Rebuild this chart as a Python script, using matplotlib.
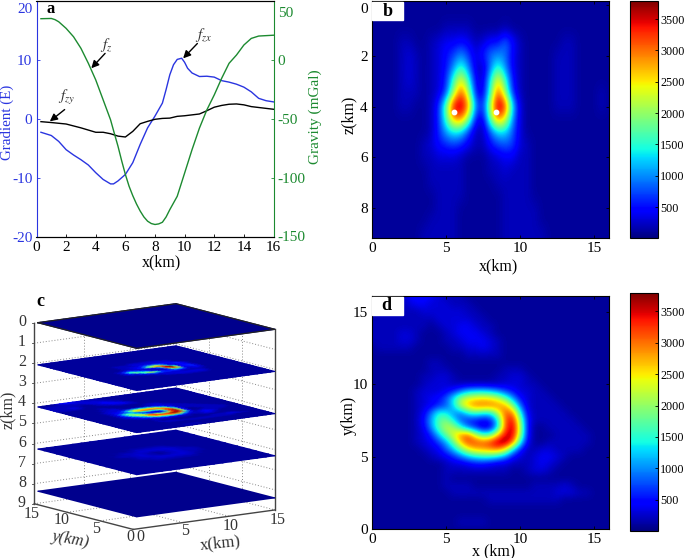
#!/usr/bin/python3
import numpy as np
from matplotlib import pyplot as plt
from matplotlib.transforms import ScaledTranslation

W, H = 685, 558

plt.rcParams['font.family'] = ['Liberation Serif', 'DejaVu Serif']
plt.rcParams['mathtext.fontset'] = 'stix'
plt.rcParams['font.size'] = 11
plt.rcParams['axes.unicode_minus'] = False

BLUE = '#2a35e0'
GREEN = '#1c8a30'
GRAY = '#333333'

# panel a, profiles along x
profile_blue_x = [0.3, 1, 1.5, 2, 2.5, 3, 3.5, 4, 4.5, 5, 5.2, 5.5, 6, 6.5, 7, 7.5, 8, 8.5, 8.75, 9, 9.25, 9.5, 9.8,
                  10, 10.2, 10.5, 11, 11.5, 12, 12.5, 13, 13.5, 14, 14.5, 15, 15.5, 16]
profile_blue = [-2.25, -2.8, -3.8, -5.2, -6.1, -6.9, -7.8, -9.1, -10.25, -11, -11, -10.5, -9.4, -7.4, -4.3, -1.5,
                0.5, 2.7, 5.0, 7.5, 9.2, 10.1, 10.3, 9.6, 8.6, 7.8, 7.2, 7.25, 7.1, 6.5, 6.25, 5.9, 5.4, 4.6, 3.5,
                3.1, 2.9]
profile_black_x = [0.3, 1, 2, 3, 4, 4.5, 5, 5.5, 6, 6.5, 7, 7.5, 8, 8.5, 9, 9.5, 10, 11, 11.5, 12, 12.5, 13, 13.5,
                   14, 14.5, 15, 16]
profile_black = [-0.45, -0.6, -0.85, -1.5, -2.25, -2.25, -2.5, -2.9, -3.05, -2.1, -0.8, -0.4, -0.05, 0.1, 0.15,
                 0.45, 0.55, 0.85, 1.4, 2, 2.3, 2.5, 2.55, 2.4, 2.1, 1.95, 1.65]
gravity_x = [0.3, 1, 1.25, 1.5, 2, 2.5, 3, 3.5, 4, 4.5, 5, 5.25, 5.5, 5.75, 6, 6.25, 6.5, 6.75, 7, 7.25, 7.5, 7.75,
             8, 8.25, 8.5, 8.75, 9, 9.5, 10, 10.5, 11, 11.5, 12, 12.5, 13, 13.5, 14, 14.5, 15, 16]
gravity = [35, 35.2, 34.2, 32.4, 26.8, 19.7, 9.9, -2.8, -16.9, -33.8, -50.7, -62, -73, -85.4, -97, -107, -115, -122,
           -128, -133, -136.6, -138.6, -139.4, -138.9, -137.5, -133, -126.8, -115.5, -95.8, -76, -57.7, -42.3,
           -29.6, -15.5, -2.8, 4.2, 12.7, 18.3, 20.3, 21]

# panel b, section in hundreds, rows z = 0, 0.5 .. 9, columns x = 0, 0.5 .. 16
section = [
    [1, 1, 1, 1, 1, 1, 1, 1, 1, 1, 1, 1, 1, 1, 1, 1, 1, 1, 1, 1, 1, 1, 1, 1, 1, 1, 1, 1, 1, 1, 1, 1, 1],
    [1, 1, 1, 1, 1, 1, 1, 1, 1, 1, 1, 1, 1, 1, 1, 1, 1, 1, 1, 1, 1, 1, 1, 1, 1, 1, 1, 1, 1, 1, 1, 1, 1],
    [1, 1, 1, 1, 1, 1, 1, 1, 1, 1, 2, 2, 2, 2, 1, 1, 1, 1, 2, 1, 1, 1, 1, 1, 1, 1, 1, 1, 1, 1, 1, 1, 1],
    [1, 1, 1, 1, 2, 2, 1, 1, 2, 3, 4, 4, 5, 4, 2, 3, 5, 5, 9, 5, 2, 1, 1, 1, 1, 1, 2, 2, 1, 1, 1, 1, 1],
    [1, 1, 1, 1, 2, 3, 2, 1, 2, 3, 5, 7, 10, 7, 3, 6, 9, 10, 9, 4, 2, 1, 1, 1, 1, 2, 2, 2, 1, 1, 1, 1, 1],
    [1, 1, 1, 1, 2, 3, 2, 1, 2, 3, 5, 10, 16, 10, 3, 2, 9, 16, 10, 4, 2, 1, 1, 1, 1, 2, 2, 2, 1, 1, 1, 1, 1],
    [1, 1, 1, 1, 2, 3, 2, 1, 2, 3, 6, 16, 25, 16, 4, 3, 14, 26, 16, 5, 2, 1, 1, 1, 1, 2, 2, 2, 1, 1, 1, 1, 1],
    [1, 1, 1, 1, 2, 2, 2, 1, 2, 3, 7, 20, 32, 22, 5, 3, 16, 32, 20, 6, 2, 1, 1, 1, 1, 2, 2, 2, 1, 1, 1, 2, 1],
    [1, 1, 1, 1, 2, 2, 1, 1, 2, 6, 18, 36, 38, 30, 10, 6, 22, 38, 34, 13, 3, 1, 1, 1, 1, 2, 2, 2, 1, 1, 1, 2, 1],
    [1, 1, 1, 1, 1, 1, 1, 1, 2, 6, 16, 28, 30, 20, 5, 3, 18, 30, 24, 10, 3, 1, 1, 1, 1, 1, 1, 1, 1, 1, 1, 1, 1],
    [1, 1, 1, 1, 1, 1, 1, 1, 2, 6, 11, 14, 13, 7, 2, 2, 8, 13, 13, 8, 3, 1, 1, 1, 1, 1, 1, 1, 1, 1, 1, 1, 1],
    [1, 1, 1, 1, 1, 1, 1, 2, 3, 5, 6, 7, 6, 4, 2, 2, 5, 7, 8, 7, 3, 2, 1, 1, 1, 1, 1, 1, 1, 1, 1, 1, 1],
    [1, 1, 1, 1, 1, 1, 1, 2, 2, 3, 3, 3, 2, 1, 1, 1, 2, 3, 4, 4, 2, 2, 1, 1, 1, 1, 1, 1, 1, 1, 1, 1, 1],
    [1, 1, 1, 1, 1, 1, 1, 1, 2, 2, 2, 2, 2, 1, 1, 1, 2, 2, 3, 2, 2, 2, 1, 1, 1, 1, 1, 1, 1, 1, 1, 1, 1],
    [1, 1, 1, 1, 1, 1, 1, 1, 2, 2, 2, 2, 2, 1, 1, 1, 1, 2, 2, 2, 2, 2, 1, 1, 1, 1, 1, 1, 1, 1, 1, 1, 1],
    [1, 1, 1, 1, 1, 1, 1, 1, 1, 2, 2, 2, 2, 1, 1, 1, 1, 1, 2, 2, 2, 2, 1, 1, 1, 1, 1, 1, 1, 1, 1, 1, 1],
    [1, 1, 1, 1, 1, 1, 1, 1, 1, 2, 2, 2, 1, 1, 1, 1, 1, 1, 2, 2, 2, 2, 2, 1, 1, 1, 1, 1, 1, 1, 1, 1, 1],
    [1, 1, 1, 1, 1, 1, 1, 1, 2, 2, 2, 2, 1, 1, 1, 1, 1, 1, 2, 2, 2, 2, 2, 1, 1, 1, 1, 1, 1, 1, 1, 1, 1],
    [1, 1, 1, 1, 1, 1, 1, 2, 2, 2, 2, 2, 1, 1, 1, 1, 1, 1, 2, 2, 2, 2, 2, 2, 1, 1, 1, 1, 1, 1, 1, 1, 1],
]

# panel d, slice at z = 4.2 in hundreds, rows y = 16, 15.5 .. 0, columns x = 0, 0.5 .. 16
depth_slice = [
    [1, 1, 1, 1, 2, 4, 5, 5, 4, 3, 2, 2, 2, 1, 1, 1, 1, 1, 1, 1, 1, 1, 1, 1, 1, 1, 1, 1, 1, 1, 1, 1, 1],
    [1, 1, 1, 1, 2, 3, 4, 4, 3, 3, 3, 2, 2, 2, 1, 1, 1, 1, 1, 1, 1, 1, 1, 1, 1, 1, 1, 1, 1, 1, 1, 1, 1],
    [1, 2, 2, 2, 2, 2, 2, 3, 3, 3, 3, 3, 3, 2, 2, 1, 1, 1, 1, 1, 1, 1, 1, 1, 1, 1, 1, 1, 1, 1, 1, 1, 1],
    [2, 2, 2, 2, 2, 2, 2, 2, 2, 3, 3, 3, 3, 3, 2, 2, 1, 1, 1, 1, 1, 1, 1, 1, 1, 1, 1, 1, 1, 1, 1, 1, 1],
    [2, 2, 2, 2, 2, 2, 2, 2, 1, 2, 3, 3, 4, 4, 3, 2, 2, 1, 1, 1, 1, 1, 1, 1, 1, 1, 1, 1, 1, 1, 1, 1, 1],
    [2, 2, 2, 2, 3, 3, 2, 1, 1, 1, 2, 3, 4, 4, 4, 3, 2, 1, 1, 1, 1, 1, 1, 1, 1, 1, 1, 1, 1, 1, 1, 1, 1],
    [2, 2, 2, 2, 3, 3, 2, 1, 1, 1, 2, 2, 3, 4, 4, 4, 3, 2, 1, 1, 1, 1, 1, 1, 1, 1, 1, 1, 1, 1, 1, 1, 1],
    [1, 2, 2, 2, 2, 2, 1, 1, 1, 1, 1, 2, 2, 3, 3, 4, 3, 2, 1, 1, 1, 1, 1, 1, 1, 1, 1, 1, 1, 1, 1, 1, 1],
    [1, 1, 1, 1, 1, 1, 1, 1, 1, 1, 1, 1, 1, 2, 2, 2, 2, 2, 1, 1, 1, 1, 1, 1, 1, 1, 1, 1, 1, 1, 1, 1, 1],
    [1, 1, 1, 1, 1, 1, 1, 1, 2, 2, 1, 1, 1, 1, 1, 1, 1, 1, 1, 1, 1, 1, 1, 1, 1, 1, 1, 1, 1, 1, 1, 1, 1],
    [1, 1, 1, 1, 1, 1, 1, 1, 2, 2, 2, 1, 1, 1, 1, 1, 1, 1, 2, 2, 2, 1, 1, 1, 1, 1, 1, 1, 1, 1, 1, 1, 1],
    [1, 1, 1, 1, 1, 1, 1, 2, 2, 3, 3, 2, 1, 1, 1, 1, 1, 2, 2, 3, 3, 2, 1, 1, 1, 1, 1, 1, 1, 1, 1, 1, 1],
    [1, 1, 1, 1, 1, 1, 1, 2, 3, 3, 3, 2, 2, 2, 2, 2, 2, 2, 3, 3, 3, 2, 2, 1, 1, 1, 1, 1, 1, 1, 1, 1, 1],
    [1, 1, 1, 1, 1, 1, 2, 3, 3, 3, 4, 6, 9, 12, 13, 13, 12, 10, 7, 5, 3, 3, 2, 2, 1, 1, 1, 1, 1, 1, 1, 1, 1],
    [1, 1, 1, 1, 1, 1, 2, 3, 4, 5, 8, 14, 21, 24, 25, 26, 25, 23, 18, 11, 5, 3, 2, 2, 2, 1, 1, 1, 1, 1, 1, 1, 1],
    [1, 1, 1, 1, 1, 1, 2, 3, 4, 6, 8, 13, 22, 27, 30, 30, 30, 29, 28, 20, 9, 3, 2, 2, 2, 2, 1, 1, 1, 1, 1, 1, 1],
    [1, 1, 1, 1, 1, 1, 2, 4, 9, 15, 14, 10, 9, 14, 16, 14, 14, 22, 31, 30, 15, 4, 2, 2, 2, 2, 2, 1, 1, 1, 1, 1, 1],
    [1, 1, 1, 1, 1, 1, 2, 5, 11, 17, 19, 14, 8, 6, 5, 4, 5, 13, 31, 35, 20, 5, 2, 2, 2, 2, 2, 2, 1, 1, 1, 1, 1],
    [1, 1, 1, 1, 1, 1, 2, 4, 10, 17, 22, 21, 15, 9, 6, 3, 4, 13, 31, 37, 22, 5, 1, 1, 2, 2, 2, 2, 2, 1, 1, 1, 1],
    [1, 1, 1, 1, 1, 1, 2, 3, 6, 12, 18, 24, 29, 31, 22, 16, 17, 26, 35, 36, 21, 5, 1, 1, 1, 2, 2, 2, 2, 2, 1, 1, 1],
    [1, 1, 1, 1, 1, 1, 2, 3, 4, 7, 11, 18, 27, 32, 32, 31, 33, 37, 38, 31, 15, 4, 1, 1, 2, 2, 2, 2, 2, 2, 1, 1, 1],
    [1, 1, 1, 1, 1, 1, 1, 2, 3, 4, 8, 12, 18, 24, 27, 28, 29, 30, 25, 14, 6, 2, 2, 3, 3, 2, 2, 2, 2, 1, 1, 1, 1],
    [1, 1, 1, 1, 1, 1, 1, 1, 2, 3, 4, 6, 9, 12, 14, 15, 15, 13, 10, 5, 3, 2, 3, 4, 4, 3, 2, 1, 1, 1, 1, 1, 1],
    [1, 1, 1, 1, 1, 1, 1, 1, 1, 1, 2, 3, 3, 4, 5, 5, 4, 3, 3, 2, 2, 2, 3, 4, 3, 2, 1, 1, 1, 1, 1, 1, 1],
    [1, 1, 1, 1, 1, 1, 1, 1, 1, 1, 2, 2, 2, 2, 2, 2, 2, 2, 2, 1, 1, 2, 3, 3, 2, 1, 1, 1, 1, 1, 1, 1, 1],
    [1, 1, 1, 1, 1, 1, 1, 1, 1, 1, 2, 1, 1, 1, 1, 1, 1, 1, 1, 1, 1, 1, 1, 1, 1, 1, 1, 1, 1, 1, 1, 1, 1],
    [1, 1, 1, 1, 1, 1, 1, 1, 1, 1, 2, 2, 2, 2, 1, 1, 1, 1, 1, 1, 1, 1, 2, 2, 2, 2, 3, 2, 1, 1, 1, 1, 1],
    [1, 1, 1, 1, 1, 1, 1, 1, 1, 1, 1, 2, 2, 2, 2, 2, 2, 2, 2, 2, 2, 2, 2, 2, 2, 3, 3, 3, 2, 2, 1, 1, 1],
    [1, 1, 1, 1, 1, 1, 1, 1, 1, 1, 1, 1, 1, 1, 1, 1, 2, 2, 2, 2, 2, 2, 2, 2, 2, 2, 1, 1, 1, 1, 1, 1, 1],
    [1, 1, 1, 1, 1, 1, 1, 1, 1, 1, 1, 1, 1, 1, 1, 1, 1, 1, 1, 1, 1, 1, 1, 1, 1, 1, 1, 1, 1, 1, 1, 1, 1],
    [1, 1, 1, 1, 1, 1, 1, 1, 1, 1, 1, 1, 1, 1, 1, 1, 1, 1, 1, 1, 1, 1, 1, 1, 1, 1, 1, 1, 1, 1, 1, 1, 1],
    [1, 1, 1, 1, 1, 1, 1, 1, 1, 1, 1, 1, 2, 2, 2, 2, 1, 1, 1, 1, 1, 1, 1, 1, 1, 1, 1, 1, 1, 1, 1, 1, 1],
    [1, 1, 1, 1, 1, 1, 1, 1, 1, 1, 1, 1, 1, 1, 1, 1, 1, 1, 1, 1, 1, 1, 1, 1, 1, 1, 1, 1, 1, 1, 1, 1, 1],
]

# panel c, slice at z = 2.1, rows y = 12, 11.5 .. 4, columns x = 0, 0.5 .. 16
shallow_slice = [
    [1, 1, 1, 1, 1, 1, 1, 1, 1, 1, 1, 1, 1, 1, 1, 1, 1, 1, 1, 1, 1, 1, 1, 1, 1, 1, 1, 1, 1, 1, 1, 1, 1],
    [1, 1, 1, 1, 1, 1, 1, 1, 1, 1, 1, 1, 1, 1, 1, 1, 1, 1, 1, 1, 1, 1, 1, 1, 1, 1, 1, 1, 1, 1, 1, 1, 1],
    [1, 1, 1, 1, 1, 1, 1, 1, 1, 1, 1, 1, 1, 1, 2, 2, 2, 2, 2, 2, 2, 1, 1, 1, 1, 1, 1, 1, 1, 1, 1, 1, 1],
    [1, 1, 1, 1, 1, 1, 1, 1, 1, 1, 2, 2, 2, 2, 3, 3, 3, 3, 3, 3, 3, 3, 2, 1, 1, 1, 1, 1, 1, 1, 1, 1, 1],
    [1, 1, 1, 1, 1, 1, 1, 1, 1, 1, 2, 2, 2, 2, 3, 3, 3, 3, 3, 3, 3, 3, 3, 1, 1, 1, 1, 1, 1, 1, 1, 1, 1],
    [1, 1, 1, 1, 1, 1, 1, 1, 1, 1, 2, 2, 3, 3, 3, 5, 7, 7, 7, 6, 5, 4, 3, 2, 1, 1, 1, 1, 1, 1, 1, 1, 1],
    [1, 1, 1, 1, 1, 1, 1, 1, 1, 1, 2, 2, 3, 4, 5, 10, 16, 20, 18, 8, 3, 4, 6, 4, 2, 1, 1, 1, 1, 1, 1, 1, 1],
    [1, 1, 1, 1, 1, 1, 1, 1, 1, 2, 3, 3, 3, 4, 8, 17, 24, 28, 30, 15, 4, 3, 5, 4, 2, 1, 1, 1, 1, 1, 1, 1, 1],
    [1, 1, 1, 1, 1, 1, 1, 2, 3, 5, 8, 6, 3, 3, 3, 4, 6, 16, 34, 38, 14, 3, 5, 5, 2, 1, 1, 1, 1, 1, 1, 1, 1],
    [1, 1, 1, 1, 1, 1, 1, 2, 6, 14, 16, 10, 8, 5, 3, 3, 3, 8, 30, 38, 22, 5, 5, 6, 3, 1, 1, 1, 1, 1, 1, 1, 1],
    [1, 1, 1, 1, 1, 1, 1, 2, 5, 10, 18, 16, 14, 10, 4, 2, 2, 4, 18, 30, 20, 4, 4, 6, 3, 1, 1, 1, 1, 1, 1, 1, 1],
    [1, 1, 1, 1, 1, 1, 1, 2, 3, 3, 6, 14, 20, 22, 16, 7, 4, 5, 10, 14, 9, 3, 3, 5, 3, 1, 1, 1, 1, 1, 1, 1, 1],
    [1, 1, 1, 1, 1, 1, 1, 1, 2, 2, 3, 5, 8, 10, 8, 6, 6, 6, 6, 5, 4, 2, 3, 3, 2, 1, 1, 1, 1, 1, 1, 1, 1],
    [1, 1, 1, 1, 1, 1, 1, 1, 1, 1, 2, 2, 3, 3, 3, 3, 3, 3, 3, 2, 2, 2, 2, 2, 1, 1, 1, 1, 1, 1, 1, 1, 1],
    [1, 1, 1, 1, 1, 1, 1, 1, 1, 1, 1, 1, 2, 2, 3, 3, 3, 3, 3, 3, 3, 3, 3, 2, 1, 1, 1, 1, 1, 1, 1, 1, 1],
    [1, 1, 1, 1, 1, 1, 1, 1, 1, 1, 1, 1, 1, 1, 2, 2, 3, 3, 3, 3, 3, 3, 3, 2, 1, 1, 1, 1, 1, 1, 1, 1, 1],
    [1, 1, 1, 1, 1, 1, 1, 1, 1, 1, 1, 1, 1, 1, 1, 1, 1, 2, 2, 2, 2, 2, 2, 1, 1, 1, 1, 1, 1, 1, 1, 1, 1],
]

# panel c, faint slice at z = 6.3, rows y = 16, 15 .. 0, columns x = 0, 1 .. 16
deep_slice = [
    [1, 1, 1, 1, 1, 1, 1, 1, 1, 1, 1, 1, 1, 1, 1, 1, 1],
    [1, 1, 1, 1, 1, 1, 1, 1, 1, 1, 1, 1, 1, 1, 1, 1, 1],
    [1, 1, 1, 1, 1, 1, 1, 1, 1, 1, 1, 1, 1, 1, 1, 1, 1],
    [1, 1, 1, 1, 1, 1, 1, 1, 1, 1, 1, 1, 1, 1, 1, 1, 1],
    [1, 1, 1, 1, 1, 1, 1, 1, 1, 1, 1, 1, 1, 1, 1, 1, 1],
    [1, 1, 1, 1, 1, 1, 1, 1, 1, 1, 1, 1, 1, 1, 1, 1, 1],
    [1, 1, 1, 1, 1, 1, 1, 2, 2, 2, 2, 1, 1, 1, 1, 1, 1],
    [1, 1, 1, 1, 1, 2, 2, 3, 3, 3, 3, 2, 1, 1, 1, 1, 1],
    [1, 1, 1, 1, 2, 2, 3, 2, 1, 2, 3, 2, 2, 1, 1, 1, 1],
    [1, 1, 1, 1, 1, 2, 3, 2, 1, 2, 3, 2, 2, 1, 1, 1, 1],
    [1, 1, 1, 1, 1, 2, 2, 3, 3, 3, 3, 2, 1, 1, 1, 1, 1],
    [1, 1, 1, 1, 1, 1, 2, 2, 2, 2, 2, 1, 1, 1, 1, 1, 1],
    [1, 1, 1, 1, 1, 1, 1, 1, 1, 1, 1, 1, 1, 1, 1, 1, 1],
    [1, 1, 1, 1, 1, 1, 1, 1, 1, 1, 1, 1, 1, 1, 1, 1, 1],
    [1, 1, 1, 1, 1, 1, 1, 1, 1, 1, 1, 1, 1, 1, 1, 1, 1],
    [1, 1, 1, 1, 1, 1, 1, 1, 1, 1, 1, 1, 1, 1, 1, 1, 1],
    [1, 1, 1, 1, 1, 1, 1, 1, 1, 1, 1, 1, 1, 1, 1, 1, 1],
]
flat_slice = [[0.5, 0.5], [0.5, 0.5]]

sources_x = [5.53, 8.4]
sources_z = [4.2, 4.2]
colorbar_ticks = [500, 1000, 1500, 2000, 2500, 3000, 3500]
slice_depths = [0, 2.1, 4.2, 6.3, 8.4]

VMIN, VMAX = 5, 3790


def axes_px(fig, left, top, right, bottom):
    return fig.add_axes([left / W, 1 - bottom / H, (right - left) / W, (bottom - top) / H])


def label_px(fig, x, y, s, **kw):
    kw.setdefault('ha', 'center')
    kw.setdefault('va', 'center')
    fig.text(x / W, 1 - y / H, s, **kw)


def shift_label(fig, label, points):
    label.set_transform(label.get_transform() + ScaledTranslation(0, points / 72, fig.dpi_scale_trans))


def colorbar(fig, im, left, top, right, bottom):
    cax = axes_px(fig, left, top, right, bottom)
    cb = fig.colorbar(im, cax=cax)
    cb.set_ticks(colorbar_ticks)
    cax.tick_params(direction='in', length=2, width=0.6, labelsize=8.7, pad=2)
    cb.outline.set_linewidth(0.8)


def heatmap(fig, box, values, extent, ylim, yticks):
    ax = axes_px(fig, *box)
    im = ax.imshow(np.array(values) * 100.0, cmap='jet', vmin=VMIN, vmax=VMAX, extent=extent,
                   interpolation='bicubic', aspect='auto')
    ax.set_xlim(0, 16)
    ax.set_ylim(*ylim)
    ax.set_xticks([0, 5, 10, 15])
    ax.set_yticks(yticks)
    ax.tick_params(direction='in', length=2, width=0.6, top=True, right=True, labelsize=11, pad=3)
    return ax, im


# project a point of the block in panel c to figure pixels
def project(x, y, z):
    x = np.asarray(x, dtype=float)
    y = np.asarray(y, dtype=float)
    px = (410 + x * 415 / 16 - y * 297 / 16) / 3
    py = 285 + (190 - x * 57 / 16 - y * 77 / 16 + z * 60.2) / 3
    return px, py


def block_line(ax, a, b, **kw):
    pa = project(*a)
    pb = project(*b)
    ax.plot([pa[0], pb[0]], [pa[1], pb[1]], **kw)


def draw_slice(ax, values, xs, ys, z):
    gx, gy = np.meshgrid(xs, ys)
    px, py = project(gx, gy, z)
    ax.pcolormesh(px, py, np.array(values) * 100.0, cmap='jet', vmin=VMIN, vmax=VMAX, shading='gouraud', zorder=3)


fig = plt.figure(figsize=(W / 100, H / 100), dpi=100)

# a
ax = axes_px(fig, 36.5, 1, 273.5, 237)
ax.plot(profile_blue_x, profile_blue, color=BLUE, lw=1)
ax.plot(profile_black_x, profile_black, color='black', lw=1)
ax.set_xlim(0, 16)
ax.set_ylim(-20, 20)
ax.set_xticks(range(0, 17, 2))
ax.set_yticks([-20, -10, 0, 10, 20])
ax.tick_params(axis='x', direction='in', length=2, width=0.6, labelsize=11, pad=3)
ax.tick_params(axis='y', direction='in', length=2, width=0.6, labelsize=11, labelcolor=BLUE, color=BLUE, pad=3)
ax.spines['left'].set_color(BLUE)
ax.spines['right'].set_visible(False)
shift_label(fig, ax.yaxis.get_ticklabels()[-1], -5)
ax2 = ax.twinx()
ax2.plot(gravity_x, gravity, color=GREEN, lw=1)
ax2.set_ylim(-150, 50)
ax2.set_yticks([-150, -100, -50, 0, 50])
ax2.tick_params(direction='in', length=2, width=0.6, labelsize=11, labelcolor=GREEN, color=GREEN, pad=3)
ax2.spines['right'].set_color(GREEN)
ax2.spines['left'].set_visible(False)
labs = ax2.yaxis.get_ticklabels()
shift_label(fig, labs[-1], -8)
shift_label(fig, labs[0], 1)
arrow = dict(arrowstyle='-|>', color='black', lw=1, shrinkA=0, shrinkB=0, mutation_scale=11)
ax2.text(4.73, 12.7, '$f_{z}$', color=GRAY, fontsize=11, ha='center', va='center')
ax2.annotate('', xy=(3.7, -7), xytext=(4.63, 5.6), arrowprops=arrow)
ax2.text(11.26, 21, '$f_{zx}$', color=GRAY, fontsize=11, ha='center', va='center')
ax2.annotate('', xy=(9.9, 1.4), xytext=(10.86, 14), arrowprops=arrow)
ax2.text(2.03, -32, '$f_{zy}$', color=GRAY, fontsize=11, ha='center', va='center')
ax2.annotate('', xy=(0.9, -52), xytext=(1.9, -42), arrowprops=arrow)
label_px(fig, 161, 262, 'x(km)', fontsize=11.5)
label_px(fig, 7, 122, 'Gradient (E)', rotation=90, color=BLUE, fontsize=10.8)
label_px(fig, 315, 117, 'Gravity (mGal)', rotation=90, color=GREEN, fontsize=11)
label_px(fig, 51, 9, 'a', fontweight='bold', fontsize=12)

# b
ax, im = heatmap(fig, (372, 1, 609, 238), section, (-0.25, 16.25, 9.25, -0.25), (9.17, -0.15), [0, 2, 4, 6, 8])
shift_label(fig, ax.yaxis.get_ticklabels()[0], -2)
ax.scatter(sources_x, sources_z, s=10, color='white', zorder=3)
colorbar(fig, im, 630, 1, 657.5, 238)
label_px(fig, 498, 266, 'x(km)', fontsize=11.5)
label_px(fig, 349, 115, 'z(km)', rotation=90, fontsize=11.5)
fig.patches.append(plt.Rectangle((372 / W, 1 - 20 / H), 31 / W, 18 / H, transform=fig.transFigure, color='white',
                                 zorder=5))
label_px(fig, 388, 11, 'b', fontweight='bold', fontsize=13, zorder=6)

# d
ax, im = heatmap(fig, (372, 296, 609, 529), depth_slice, (-0.25, 16.25, -0.25, 16.25), (0, 16.07), [0, 5, 10, 15])
colorbar(fig, im, 630, 293, 657.5, 531)
label_px(fig, 494, 551, 'x (km)', fontsize=11.5)
label_px(fig, 349, 415, 'y(km)', rotation=90, fontsize=11.5)
fig.patches.append(plt.Rectangle((372 / W, 1 - 315 / H), 31 / W, 18 / H, transform=fig.transFigure, color='white',
                                 zorder=5))
label_px(fig, 386, 305, 'd', fontweight='bold', fontsize=13, zorder=6)

# c, the block is drawn in figure pixels
ax = fig.add_axes([0, 0, 1, 1], zorder=-1)
ax.set_xlim(0, W)
ax.set_ylim(H, 0)
ax.axis('off')
ax.patch.set_alpha(0)

grid = dict(color='#888888', lw=0.7, ls=(0, (1, 2)), zorder=1)
solid = dict(color='#444444', lw=1, zorder=2)
X0 = -0.4
X1 = Y1 = 16
for z in range(10):
    block_line(ax, (X0, Y1, z), (X1, Y1, z), **grid)
    block_line(ax, (X1, Y1, z), (X1, 0, z), **grid)
for t in [5, 10]:
    t16 = t * 16 / 15
    block_line(ax, (t16, Y1, 0), (t16, Y1, 9), **grid)
    block_line(ax, (X1, t16, 0), (X1, t16, 9), **grid)
    block_line(ax, (t16, 0, 9), (t16, Y1, 9), **grid)
    block_line(ax, (X0, t16, 9), (X1, t16, 9), **grid)
block_line(ax, (X1, Y1, 0), (X1, Y1, 9), **grid)
block_line(ax, (X0, Y1, 0), (X0, Y1, 9), **solid)
block_line(ax, (X1, 0, 0), (X1, 0, 9), **solid)
block_line(ax, (X0, Y1, 9), (X0, 0, 9), **solid)
block_line(ax, (X0, 0, 9), (X1, 0, 9), **solid)

xs_half = np.arange(0, 16.5, 0.5)
xs_one = np.arange(0, 17, 1.0)
draw_slice(ax, flat_slice, [0, 16], [16, 0], slice_depths[0])
shallow = np.ones((33, 33))
shallow[8:25] = shallow_slice
draw_slice(ax, shallow, xs_half, xs_half[::-1], slice_depths[1])
draw_slice(ax, depth_slice, xs_half, xs_half[::-1], slice_depths[2])
draw_slice(ax, deep_slice, xs_one, xs_one[::-1], slice_depths[3])
draw_slice(ax, flat_slice, [0, 16], [16, 0], slice_depths[4])

corners = [(0, 16), (16, 16), (16, 0), (0, 0), (0, 16)]
cx, cy = project([c[0] for c in corners], [c[1] for c in corners], slice_depths[0])
ax.plot(cx, cy, color='#222222', lw=0.9, zorder=4)

for z in range(10):
    px, py = project(X0, Y1, z)
    ax.plot([px - 2, px], [py, py], color='#444444', lw=0.6, zorder=2)
    ax.text(22, py - 1, str(z), ha='center', va='center', fontsize=11.5, color=GRAY)
for t, lx, ly in zip([0, 5, 10, 15], [140, 185, 231, 278], [537, 531, 526, 520]):
    ax.text(lx, ly, str(t), ha='center', va='center', fontsize=11.5, color=GRAY)
for t, lx, ly in zip([0, 5, 10, 15], [130, 96, 62, 32], [537, 529, 520, 514]):
    ax.text(lx, ly, str(t), ha='center', va='center', fontsize=11.5, color=GRAY)
ax.text(220, 543, 'x(km)', ha='center', va='center', fontsize=12, color=GRAY, rotation=6)
ax.text(70, 539, 'y(km)', ha='center', va='center', fontsize=12, color=GRAY, rotation=-10, style='italic')
ax.text(8, 410, 'z(km)', ha='center', va='center', fontsize=11.5, color=GRAY, rotation=90)
ax.text(40, 302, 'c', ha='center', va='center', fontsize=13, fontweight='bold')

fig.savefig('out.png', dpi=100)
